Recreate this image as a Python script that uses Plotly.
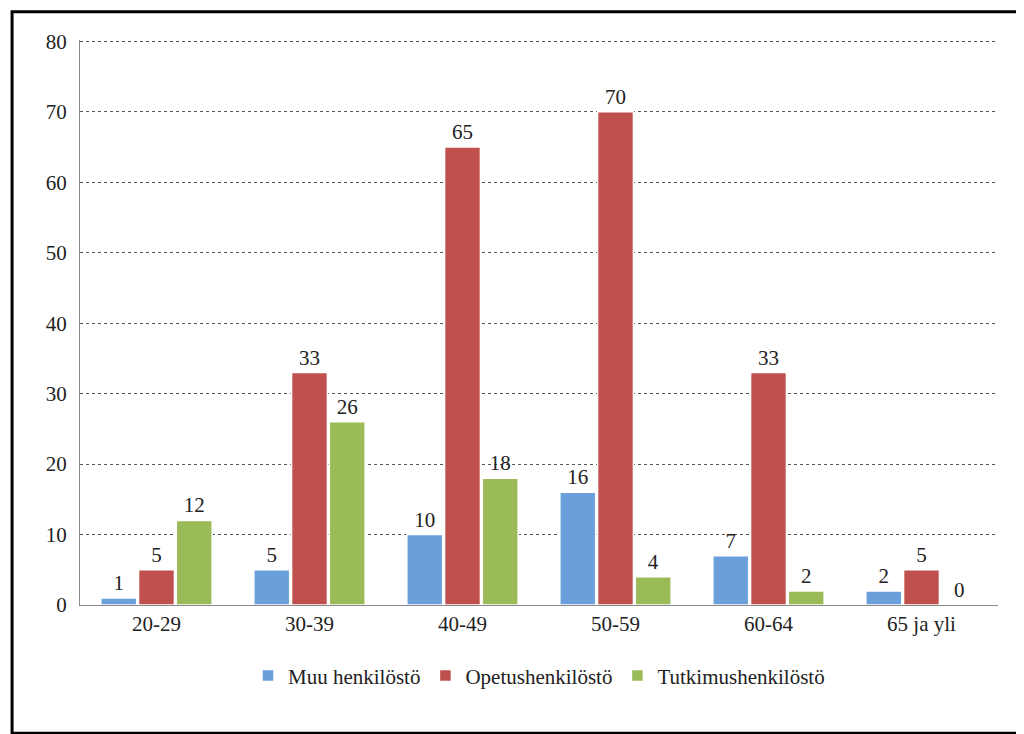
import plotly.graph_objects as go

categories = ["20-29", "30-39", "40-49", "50-59", "60-64", "65 ja yli"]
muu = [1, 5, 10, 16, 7, 2]
opetus = [5, 33, 65, 70, 33, 5]
tutkimus = [12, 26, 18, 4, 2, 0]
names = ["Muu henkilöstö", "Opetushenkilöstö", "Tutkimushenkilöstö"]
colors = ["#6a9fdc", "#c0504d", "#9bbb59"]

font = "Liberation Serif, DejaVu Serif, serif"
fig = go.Figure()
for n, v, c in zip(names, [muu, opetus, tutkimus], colors):
    fig.add_trace(go.Bar(x=categories, y=v, name=n, marker_color=c,
                         marker_line=dict(color="white", width=1.5),
                         text=v, textposition="outside", cliponaxis=False,
                         textfont=dict(size=21, color="#222")))

fig.update_layout(
    width=1024, height=734, barmode="group", bargap=0.26, bargroupgap=0.05,
    paper_bgcolor="white", plot_bgcolor="white",
    margin=dict(l=72, r=34, t=32, b=137, autoexpand=False),
    font=dict(family=font, size=21, color="#222"),
    xaxis=dict(showline=True, linecolor="#888", ticks="", tickfont=dict(size=21),
               automargin=False),
    yaxis=dict(range=[0, 80.2], dtick=10, showgrid=True, gridcolor="#555",
               griddash="dot", gridwidth=1, showline=True, linecolor="#888",
               tickfont=dict(size=21), zeroline=False, automargin=False,
               ticks="outside", ticklen=8, tickcolor="rgba(0,0,0,0)"),
    legend=dict(orientation="h", x=0.5, xanchor="center", yref="container",
                y=0.09, yanchor="middle", font=dict(size=21)),
    shapes=[dict(type="rect", xref="paper", yref="paper", x0=-0.074, x1=1.025,
                 y0=-0.227, y1=1.05, line=dict(color="black", width=3))],
)
fig.write_html("out.html")
